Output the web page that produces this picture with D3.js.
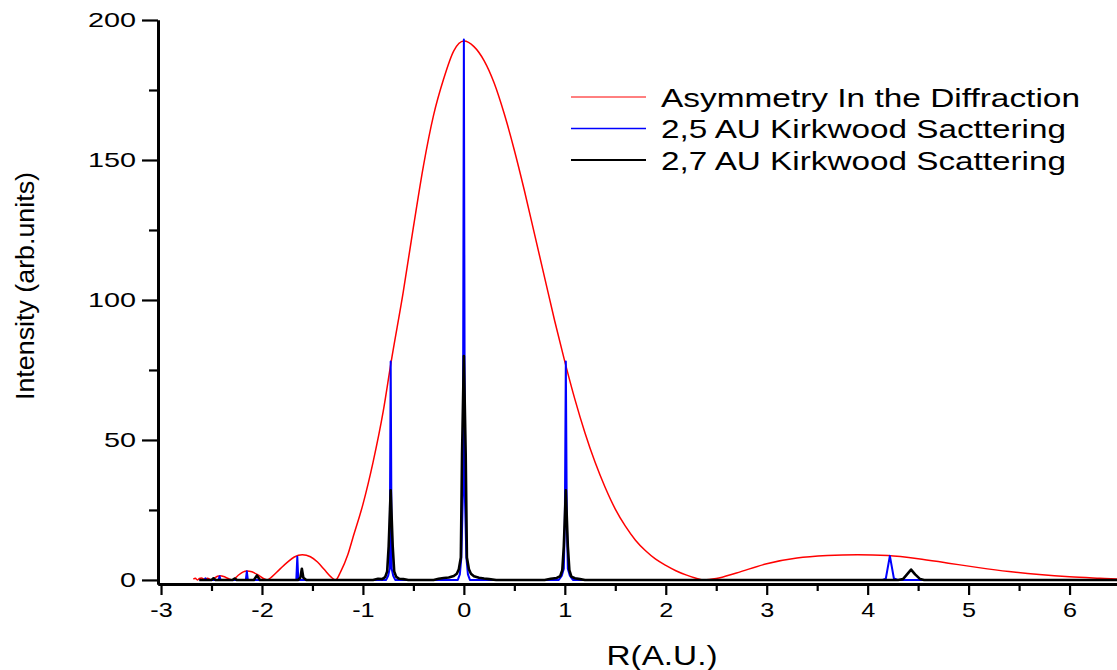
<!DOCTYPE html>
<html>
<head>
<meta charset="utf-8">
<script src="https://cdn.jsdelivr.net/npm/d3@7"></script>
<style>
  body { margin: 0; background: #fff; }
  text { font-family: "Liberation Sans", Arial, sans-serif; fill: #000; }
</style>
</head>
<body>
<svg id="chart" width="1117" height="670"></svg>
<script>
// Data: [R, intensity]

// red curve: asymmetry in the diffraction
let asymmetry = [
  [-2.68, 0.3], [-2.66, 0.6], [-2.64, 0], [-2.62, 0.5], [-2.6, 0.7], [-2.57, 0.2],
  [-2.54, 0.6], [-2.5, 0], [-2.47, 0.7], [-2.44, 1.3], [-2.41, 1.5], [-2.38, 1.2],
  [-2.34, 0.6], [-2.29, 0], [-2.24, 1.5], [-2.19, 2.8], [-2.15, 3.2], [-2.1, 2.9],
  [-2.04, 1.8], [-1.99, 0.6], [-1.95, 0], [-1.9, 1.2], [-1.83, 3.6], [-1.75, 6.3],
  [-1.68, 8.2], [-1.6, 9], [-1.52, 8.3], [-1.45, 6.4], [-1.38, 3.6], [-1.32, 1.2],
  [-1.27, 0], [-1.22, 3], [-1.15, 9], [-1.1, 15], [-1.0, 27], [-0.9, 42],
  [-0.8, 60], [-0.72, 78], [-0.6, 103], [-0.5, 126], [-0.4, 148], [-0.3, 166],
  [-0.2, 179], [-0.1, 189], [0, 192.5], [0.1, 190.5], [0.2, 185.5], [0.3, 177.5],
  [0.4, 166.5], [0.5, 153.5], [0.6, 139], [0.7, 123.5], [0.8, 108], [0.9, 92.5],
  [1.0, 78], [1.1, 64.5], [1.2, 52.5], [1.3, 42], [1.4, 33], [1.5, 25.3],
  [1.6, 19.2], [1.7, 14.2], [1.8, 10.4], [1.9, 7.4], [2.0, 5.2], [2.1, 3.3],
  [2.2, 1.8], [2.3, 0.6], [2.38, 0], [2.5, 0.5], [2.7, 2.5], [3.0, 5.8],
  [3.3, 7.8], [3.6, 8.7], [3.9, 9], [4.2, 8.7], [4.5, 7.6], [4.8, 6.0],
  [5.1, 4.4], [5.4, 3.0], [5.7, 1.9], [6.0, 1.1], [6.3, 0.6], [6.47, 0.35]
];

// blue: 2,5 AU Kirkwood scattering
let kirkwood25 = [
  [-2.62, 0], [-2.57, 0], [-2.56, 0.6], [-2.55, 0], [-2.43, 0], [-2.42, 1.3], [-2.41, 0],
  [-2.16, 0], [-2.15, 3.1], [-2.14, 0], [-1.66, 0], [-1.65, 8.3], [-1.64, 0],
  [-0.77, 0], [-0.75, 1.5], [-0.735, 4], [-0.725, 78], [-0.715, 4], [-0.70, 1.5], [-0.68, 0],
  [-0.06, 0], [-0.04, 2], [-0.025, 8], [-0.01, 30], [0, 193], [0.01, 30], [0.025, 8],
  [0.04, 2], [0.06, 0],
  [0.94, 0], [0.97, 1.5], [0.99, 4], [1.0, 20], [1.01, 78], [1.02, 20], [1.03, 4],
  [1.05, 1.5], [1.08, 0],
  [4.15, 0], [4.18, 0.5], [4.22, 8.6], [4.26, 0.5], [4.3, 0], [6.47, 0]
];

// black: 2,7 AU Kirkwood scattering
let kirkwood27 = [
  [-2.62, 0], [-2.5, 0], [-2.48, 0.6], [-2.46, 0], [-2.29, 0], [-2.27, 0.5], [-2.25, 0],
  [-2.08, 0], [-2.05, 1.6], [-2.02, 0], [-1.64, 0], [-1.62, 0.8], [-1.605, 4],
  [-1.59, 0.8], [-1.56, 0],
  [-0.9, 0], [-0.85, 0.4], [-0.81, 0.3], [-0.78, 1], [-0.76, 3], [-0.745, 12],
  [-0.725, 32], [-0.705, 12], [-0.69, 3], [-0.67, 1.1], [-0.64, 0.4], [-0.6, 0.3], [-0.55, 0],
  [-0.3, 0], [-0.25, 0.4], [-0.2, 0.7], [-0.15, 0.9], [-0.1, 1.4], [-0.07, 2.2],
  [-0.05, 3.8], [-0.03, 8], [-0.018, 45], [0, 80], [0.018, 45], [0.03, 8], [0.05, 3.8],
  [0.07, 2.2], [0.1, 1.3], [0.15, 0.8], [0.2, 0.5], [0.25, 0.3], [0.32, 0],
  [0.8, 0], [0.86, 0.4], [0.92, 0.7], [0.955, 1.4], [0.975, 3.5], [0.99, 12],
  [1.01, 32], [1.03, 12], [1.045, 3.5], [1.065, 1.2], [1.1, 0.6], [1.15, 0.3], [1.2, 0],
  [4.3, 0], [4.35, 0.3], [4.39, 2], [4.43, 3.7], [4.47, 2], [4.52, 0.3], [4.56, 0],
  [6.47, 0]
];

let seriesNames = ["Asymmetry In the Diffraction", "2,5 AU Kirkwood Sacttering", "2,7 AU Kirkwood Scattering"];
let seriesColors = ["#ff0000", "#0000ff", "#000000"];
let xTicks = [-3, -2, -1, 0, 1, 2, 3, 4, 5, 6];
let xMinor = [-2.5, -1.5, -0.5, 0.5, 1.5, 2.5, 3.5, 4.5, 5.5];
let yTicks = [0, 50, 100, 150, 200];
let yMinor = [25, 75, 125, 175];

////////////////////////////////////////////////////////////////////////

let svg = d3.select("#chart");

let xScale = d3.scaleLinear().domain([-3.03, 6.47]).range([158, 1117]);
let yScale = d3.scaleLinear().domain([-1.45, 200]).range([584, 20]);

// stretch text horizontally, the original lettering is wide
function widen(sel, k) {
  sel.each(function() {
    let w = this.getComputedTextLength();
    d3.select(this).attr("textLength", w * k).attr("lengthAdjust", "spacingAndGlyphs");
  });
}

// plain hyphen for negatives, like the original
function plain(d) { return String(d); }

// lines
let line = d3.line()
  .x(function(d) { return xScale(d[0]); })
  .y(function(d) { return yScale(d[1]); });

svg.append("path")
  .datum(asymmetry)
  .attr("d", line.curve(d3.curveMonotoneX))
  .attr("fill", "none").attr("stroke", seriesColors[0]).attr("stroke-width", 1.5);

line.curve(d3.curveLinear);

svg.append("path")
  .datum(kirkwood25)
  .attr("d", line)
  .attr("fill", "none").attr("stroke", seriesColors[1]).attr("stroke-width", 2)
  .attr("stroke-linejoin", "round");

svg.append("path")
  .datum(kirkwood27)
  .attr("d", line)
  .attr("fill", "none").attr("stroke", seriesColors[2]).attr("stroke-width", 2.6)
  .attr("stroke-linejoin", "round");

// axes
let yAxis = svg.append("g")
  .attr("transform", "translate(158,0)")
  .call(d3.axisLeft(yScale).tickValues(yTicks).tickSize(16).tickSizeOuter(0).tickPadding(6).tickFormat(plain));

svg.append("g")
  .attr("transform", "translate(158,0)")
  .call(d3.axisLeft(yScale).tickValues(yMinor).tickSize(9).tickSizeOuter(0).tickFormat(""));

let xAxis = svg.append("g")
  .attr("transform", "translate(0,584)")
  .call(d3.axisBottom(xScale).tickValues(xTicks).tickSize(11).tickSizeOuter(0).tickPadding(7).tickFormat(plain));

svg.append("g")
  .attr("transform", "translate(0,584)")
  .call(d3.axisBottom(xScale).tickValues(xMinor).tickSize(7).tickSizeOuter(0).tickFormat(""));

svg.selectAll(".domain").attr("stroke", "#000").attr("stroke-width", 3);
svg.selectAll(".tick line").attr("stroke", "#000").attr("stroke-width", 2.2);

yAxis.selectAll("text").style("font-size", "21px").attr("font-family", null);
xAxis.selectAll("text").style("font-size", "21px").attr("font-family", null);
widen(yAxis.selectAll("text"), 1.37);
widen(xAxis.selectAll("text"), 1.2);

// axis titles
svg.append("text")
  .attr("x", 662).attr("y", 665)
  .attr("text-anchor", "middle")
  .style("font-size", "27px")
  .attr("textLength", 111).attr("lengthAdjust", "spacingAndGlyphs")
  .text("R(A.U.)");

svg.append("text")
  .attr("transform", "translate(34,286) rotate(-90)")
  .attr("text-anchor", "middle")
  .style("font-size", "25px")
  .attr("textLength", 228).attr("lengthAdjust", "spacingAndGlyphs")
  .text("Intensity (arb.units)");

// legend
let legendWidths = [419, 405, 405];
let legendStroke = [1, 1.5, 2];
seriesNames.forEach(function(name, i) {
  let ly = 97 + i * 31.5;
  svg.append("line")
    .attr("x1", 571).attr("x2", 646).attr("y1", ly).attr("y2", ly)
    .attr("stroke", seriesColors[i]).attr("stroke-width", legendStroke[i]);
  svg.append("text")
    .attr("x", 661).attr("y", ly + 9.5)
    .style("font-size", "26px")
    .attr("textLength", legendWidths[i]).attr("lengthAdjust", "spacingAndGlyphs")
    .text(name);
});
</script>
</body>
</html>
